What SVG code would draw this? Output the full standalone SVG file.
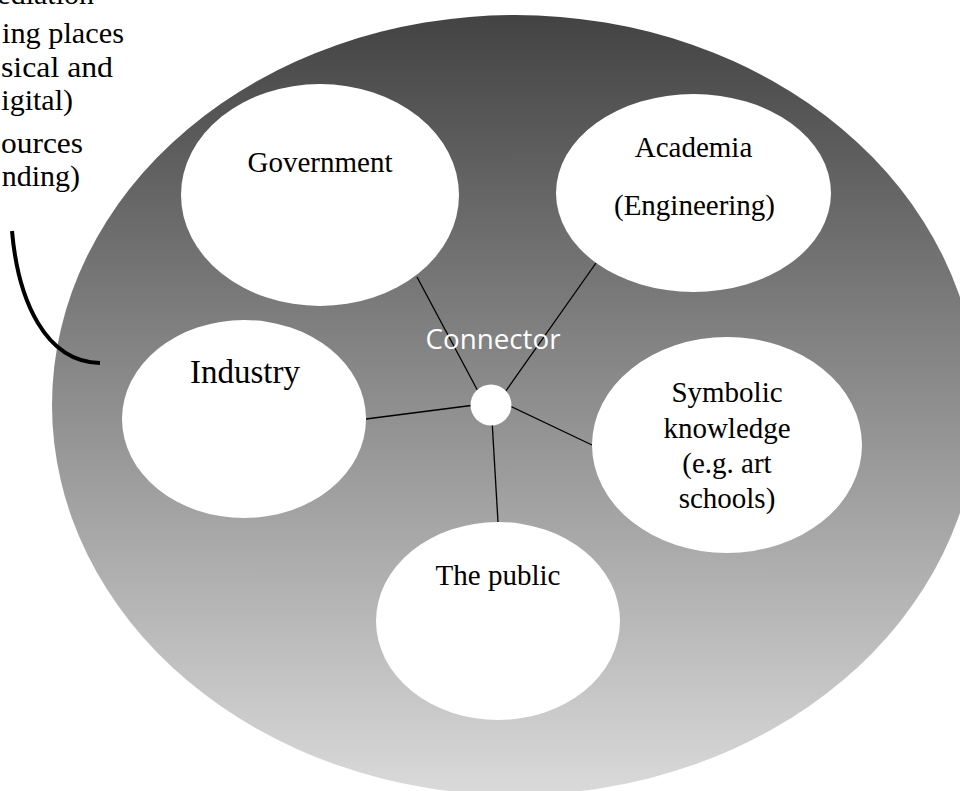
<svg xmlns="http://www.w3.org/2000/svg" width="960" height="791" viewBox="0 0 960 791">
  <defs>
    <linearGradient id="shade" x1="0" y1="0" x2="0" y2="1">
      <stop offset="0" stop-color="#434343"/>
      <stop offset="1" stop-color="#dadada"/>
    </linearGradient>
    <style>
      .node { fill: #ffffff; }
      .label { font-family: "Liberation Serif", "Times New Roman", serif; font-size: 29px; fill: #000000; text-anchor: middle; }
      .note { font-family: "Liberation Serif", "Times New Roman", serif; font-size: 30px; fill: #000000; text-anchor: end; }
      .link { stroke: #000000; stroke-width: 1.3; fill: none; }
      .hub-label { font-family: "Open Sans", "Liberation Sans", sans-serif; font-size: 28px; fill: #ffffff; text-anchor: middle; }
    </style>
  </defs>

  <rect width="960" height="791" fill="#ffffff"/>

  <!-- outer ecosystem -->
  <ellipse id="ecosystem" cx="515" cy="405" rx="463" ry="390" fill="url(#shade)"/>

  <!-- side note and its bracket -->
  <g id="note">
    <text class="note" x="94" y="4">ediation</text>
    <text class="note" x="124" y="43" textLength="122" lengthAdjust="spacingAndGlyphs">ing places</text>
    <text class="note" x="113" y="77" textLength="112" lengthAdjust="spacingAndGlyphs">sical and</text>
    <text class="note" x="73" y="110">igital)</text>
    <text class="note" x="83" y="153" textLength="82" lengthAdjust="spacingAndGlyphs">ources</text>
    <text class="note" x="80" y="186">nding)</text>
    <path d="M12,231 C18,300 45,362 100,363" stroke="#000000" stroke-width="4" fill="none"/>
  </g>

  <!-- spokes from the hub -->
  <g id="connectors">
    <line class="link" x1="417" y1="277" x2="480" y2="395"/>
    <line class="link" x1="596" y1="263" x2="503" y2="395"/>
    <line class="link" x1="366" y1="419" x2="475" y2="405"/>
    <line class="link" x1="508" y1="405" x2="592" y2="445"/>
    <line class="link" x1="492" y1="420" x2="498" y2="522"/>
  </g>

  <g id="government">
    <ellipse class="node" cx="320" cy="195" rx="139" ry="111"/>
    <text class="label" x="320" y="172">Government</text>
  </g>

  <g id="academia">
    <ellipse class="node" cx="693.5" cy="193" rx="137.5" ry="99"/>
    <text class="label" x="693.5" y="157">Academia</text>
    <text class="label" x="694.5" y="215">(Engineering)</text>
  </g>

  <g id="industry">
    <ellipse class="node" cx="244" cy="419" rx="122" ry="99"/>
    <text class="label" x="245" y="383" style="font-size:33px">Industry</text>
  </g>

  <g id="symbolic-knowledge">
    <ellipse class="node" cx="727" cy="445" rx="135" ry="108"/>
    <text class="label" x="727" y="402">Symbolic</text>
    <text class="label" x="727" y="438">knowledge</text>
    <text class="label" x="727" y="473">(e.g. art</text>
    <text class="label" x="727" y="508">schools)</text>
  </g>

  <g id="the-public">
    <ellipse class="node" cx="498" cy="621" rx="122" ry="99"/>
    <text class="label" x="498" y="585">The public</text>
  </g>

  <g id="connector">
    <text class="hub-label" x="493" y="349" textLength="135" lengthAdjust="spacingAndGlyphs">Connector</text>
    <circle class="node" cx="491" cy="405" r="20.5"/>
  </g>
</svg>
